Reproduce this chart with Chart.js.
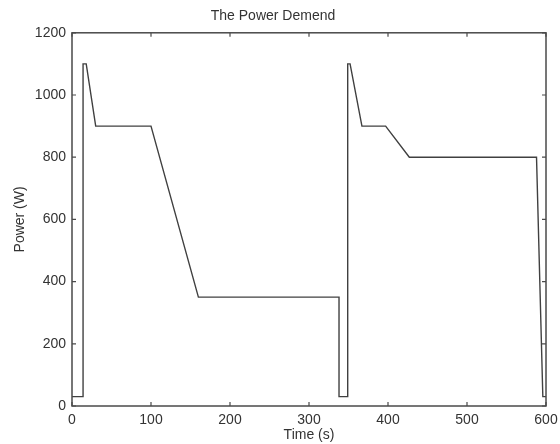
<!DOCTYPE html>
<html>
<head>
<meta charset="utf-8">
<script src="https://cdn.jsdelivr.net/npm/chart.js@4/dist/chart.umd.min.js"></script>
<style>
  html, body { margin: 0; padding: 0; background: #fff; }
  #wrap { width: 560px; height: 444px; }
</style>
</head>
<body>
<div id="wrap"><canvas id="myChart" width="560" height="444"></canvas></div>
<script>
// dades llegides del grafic
const timeValues = [0, 14, 14, 18, 30, 100, 160, 338, 338, 349, 349, 352, 367, 397, 427, 588, 596, 600];
const powerValues = [30, 30, 1100, 1100, 900, 900, 350, 350, 30, 30, 1100, 1100, 900, 900, 800, 800, 30, 30];
const xTicks = [0, 100, 200, 300, 400, 500, 600];
const yTicks = [0, 200, 400, 600, 800, 1000, 1200];

const points = timeValues.map((t, i) => ({ x: t, y: powerValues[i] }));

// caixa i marques cap endins, estil matlab
const boxPlugin = {
    id: 'boxPlugin',
    afterDraw(chart) {
        const { ctx, chartArea: a, scales } = chart;
        ctx.save();
        ctx.strokeStyle = '#4a4a4a';
        ctx.lineWidth = 1.5;
        ctx.strokeRect(a.left, a.top, a.right - a.left, a.bottom - a.top);
        ctx.lineWidth = 1.2;
        const len = 4;
        ctx.beginPath();
        xTicks.forEach(v => {
            const px = scales.x.getPixelForValue(v);
            ctx.moveTo(px, a.bottom); ctx.lineTo(px, a.bottom - len);
            ctx.moveTo(px, a.top); ctx.lineTo(px, a.top + len);
        });
        yTicks.forEach(v => {
            const py = scales.y.getPixelForValue(v);
            ctx.moveTo(a.left, py); ctx.lineTo(a.left + len, py);
            ctx.moveTo(a.right, py); ctx.lineTo(a.right - len, py);
        });
        ctx.stroke();
        ctx.restore();
    }
};

const font = { family: 'Liberation Sans, Arial, sans-serif', size: 14, weight: 'normal' };

const ctx = document.getElementById('myChart').getContext('2d');
new Chart(ctx, {
    type: 'scatter',
    data: {
        datasets: [{
            data: points,
            showLine: true,
            borderColor: '#404040',
            borderWidth: 1.4,
            pointRadius: 0,
            tension: 0
        }]
    },
    options: {
        responsive: false,
        animation: false,
        layout: { padding: { top: 0, right: 14, bottom: 0, left: 0 } },
        plugins: {
            legend: { display: false },
            tooltip: { enabled: false },
            title: {
                display: true,
                text: 'The Power Demend',
                color: '#333',
                font: font,
                padding: { top: 8, bottom: 8 }
            }
        },
        scales: {
            x: {
                type: 'linear',
                min: 0,
                max: 600,
                afterBuildTicks: s => { s.ticks = xTicks.map(v => ({ value: v })); },
                afterFit: s => { s.height = 38; s.paddingLeft = 0; s.paddingRight = 0; },
                grid: { display: true, drawOnChartArea: false, drawTicks: false, color: 'rgba(0,0,0,0)' },
                border: { display: false },
                ticks: { color: '#333', font: font, padding: 6, maxRotation: 0, callback: v => String(v) },
                title: { display: true, text: 'Time (s)', color: '#333', font: font, padding: { top: 0, bottom: 0 } }
            },
            y: {
                type: 'linear',
                min: 0,
                max: 1200,
                afterBuildTicks: s => { s.ticks = yTicks.map(v => ({ value: v })); },
                afterFit: s => { s.width = 72; s.paddingTop = 0; s.paddingBottom = 0; },
                grid: { display: true, drawOnChartArea: false, drawTicks: false, color: 'rgba(0,0,0,0)' },
                border: { display: false },
                ticks: { color: '#333', font: font, padding: 6, callback: v => String(v) },
                title: { display: true, text: 'Power (W)', color: '#333', font: font, padding: { top: 12, bottom: 0 } }
            }
        }
    },
    plugins: [boxPlugin]
});
</script>
</body>
</html>
